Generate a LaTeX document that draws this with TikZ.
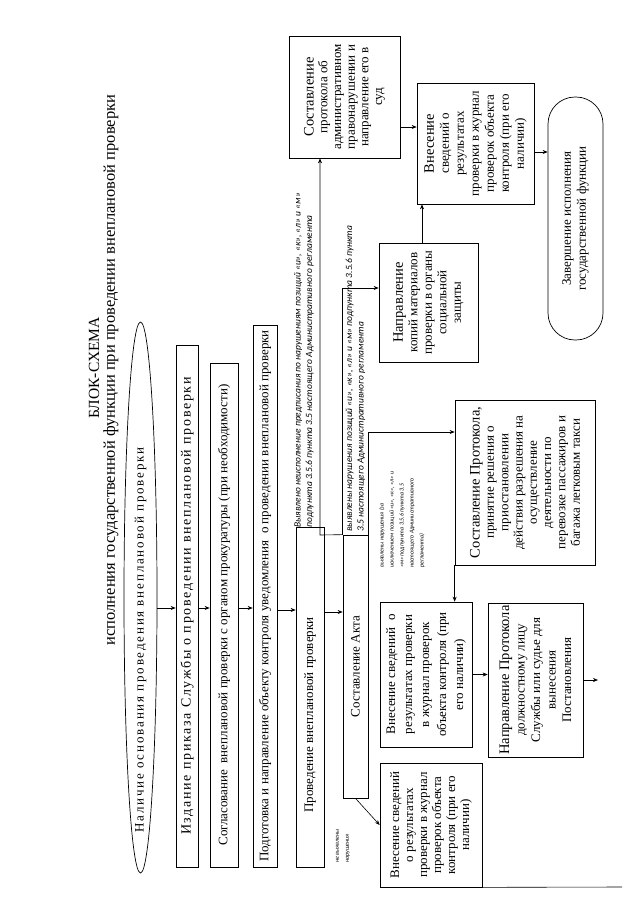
\documentclass[tikz,border=0pt]{standalone}
\usepackage{fontspec}
\setmainfont{Liberation Serif}
\newfontfamily\notefont{Carlito}
\usetikzlibrary{arrows.meta, positioning, shapes.geometric, calc}
\newcommand\firstln[1]{{\fontsize{14.5}{16}\selectfont #1}}
\tikzset{
    blk/.style={draw, rotate=90, align=center, inner sep=2pt, line width=0.7pt, font=\fontsize{13}{15}\selectfont},
    note/.style={rotate=90, align=left, anchor=west, inner sep=0pt, font=\notefont\itshape\fontsize{9.5}{11.5}\selectfont},
    smallnote/.style={note, font=\notefont\itshape\fontsize{6}{10}\selectfont},
    arr/.style={-{Stealth[length=5pt, width=4pt]}, line width=0.6pt},
}
\begin{document}
\begin{tikzpicture}[x=1pt, y=-1pt]
    \useasboundingbox (0,0) rectangle (640,905);
    % title
    \node[rotate=90, font=\fontsize{15.5}{17}\selectfont] (ttl) at (94,368) {БЛОК-СХЕМА};
    \node[rotate=90, font=\fontsize{16.5}{18}\selectfont] (sub) at (111,370) {исполнения государственной функции при проведении внеплановой проверки};
    % main column
    \node[blk, ellipse, minimum width=551pt, minimum height=33pt, inner sep=0pt] (start) at (140.5,597.5) {};
    \node[rotate=90, font=\fontsize{13}{15}\selectfont\addfontfeature{LetterSpace=14}] (starttxt) at (140.5,640) {Наличие основания проведения внеплановой проверки};
    \node[blk, minimum width=522pt, minimum height=22pt, inner sep=0pt] (order) at (187,606) {\fontsize{14}{15}\selectfont\addfontfeature{LetterSpace=12}Издание приказа Службы о проведении внеплановой проверки};
    \node[blk, minimum width=504pt, minimum height=28pt] (agree) at (224,615) {Согласование\ \ внеплановой проверки с органом прокуратуры (при необходимости)};
    \node[blk, minimum width=542pt, minimum height=24pt, inner xsep=0pt] (notice) at (265,596) {Подготовка и направление объекту контроля уведомления\ \ о проведении внеплановой проверки};
    \node[blk, minimum width=340pt, minimum height=28pt] (insp) at (310,697) {Проведение внеплановой проверки\hspace*{36pt}\mbox{}};
    \node[blk, minimum width=263pt, minimum height=25pt] (act) at (355.5,666.5) {Составление Акта};
    % results
    \node[blk, minimum width=124pt, minimum height=102pt, font=\fontsize{13}{14}\selectfont] (nofind) at (431,825) {Внесение сведений\\о результатах\\проверки в журнал\\проверок объекта\\контроля (при его\\наличии)};
    \node[blk, minimum width=145pt, minimum height=92pt, font=\fontsize{13}{17}\selectfont] (jrn) at (426,674.5) {Внесение сведений\ \ о\\результатах проверки\\в журнал проверок\\объекта контроля (при\\его наличии)};
    \node[blk, minimum width=154pt, minimum height=95pt, font=\fontsize{13}{15.5}\selectfont] (np) at (535.5,680) {\firstln{Направление Протокола}\\должностному лицу\\Службы или судье для\\вынесения\\Постановления};
    \node[blk, minimum width=165pt, minimum height=140pt, font=\fontsize{13}{14.3}\selectfont] (sp) at (525,482.5) {\firstln{Составление Протокола,}\\принятие решения о\\приостановлении\\действия разрешения на\\осуществление\\деятельности по\\перевозке пассажиров и\\багажа легковым такси};
    \node[blk, minimum width=119pt, minimum height=99pt, font=\fontsize{13}{14.5}\selectfont] (kop) at (428.5,302.5) {\firstln{Направление}\\копий материалов\\проверки в органы\\социальной\\защиты};
    \node[blk, minimum width=122pt, minimum height=111pt, font=\fontsize{13}{13.7}\selectfont] (prot) at (344.5,97) {\firstln{Составление}\\протокола об\\административном\\правонарушении и\\направление его в\\суд};
    \node[blk, minimum width=121pt, minimum height=117pt, font=\fontsize{13}{15}\selectfont] (vn) at (475.5,143.5) {\firstln{Внесение}\\сведений о\\результатах\\проверки в журнал\\проверок объекта\\контроля (при его\\наличии)};
    \node[blk, rounded corners=27pt, minimum width=243pt, minimum height=55pt] (zav) at (575.5,218.5) {Завершение исполнения\\государственной функции};
    % labels
    \node[note] (n1) at (304,528) {Выявлено неисполнение предписания по нарушениям позиций «и», «к», «л» и «м»\\подпункта 3.5.6 пункта 3.5 настоящего Административного регламента};
    \node[note] (n2) at (355.5,532) {выявлены нарушения позиций «и», «к», «л» и «м» подпункта 3.5.6 пункта\\3.5 настоящего Административного регламента};
    \node[smallnote] (n3) at (402,568) {выявлены нарушения (за\\исключением позиций «и», «к», «л» и\\«м» подпункта 3.5.6 пункта 3.5\\настоящего Административного\\регламента)};
    \node[smallnote] (n4) at (343,863) {не выявлены\\нарушения};
    % connectors
    \coordinate (rowa) at (0,608);
    \coordinate (rowb) at (0,610);
    \coordinate (rowc) at (0,612);
    \draw[arr] (start.south |- rowa) -- (order.north |- rowa);
    \draw[arr] (order.south |- rowa) -- (agree.north |- rowa);
    \draw[arr] (agree.south |- rowa) -- (notice.north |- rowa);
    \draw[arr] (notice.south |- rowb) -- (insp.north |- rowb);
    \draw[arr] (insp.south |- rowc) -- (act.north |- rowc);
    \draw[arr] (act.west) -- (nofind.north);
    \coordinate (busL) at (320,535);
    \draw[arr] (act.north east) -- (busL) -- (busL |- prot.west);
    \draw[arr] (act.north east) |- ([yshift=14.5pt]kop.north);
    \draw[arr] (act.south east) |- ([yshift=50.5pt]sp.north);
    \draw[arr] (sp.north west) -- (sp.north west |- jrn.east);
    \draw[arr] (jrn.south) -- (jrn.south -| np.north);
    \coordinate (npout) at (598,680);
    \draw[arr] (np.south) -- (npout);
    \coordinate (vnin) at ([yshift=16.5pt]vn.north);
    \draw[arr] (prot.south |- vnin) -- (vnin);
    \draw[arr] ([xshift=-6.5pt]kop.east) -- ([xshift=-6.5pt]kop.east |- vn.west);
    \draw[arr] ([yshift=-8.5pt]vn.south) -- ([yshift=-8.5pt]vn.south -| zav.north);
    \coordinate (edge) at (622,887);
    \draw[line width=0.6pt] (nofind.south west) -- (edge);
\end{tikzpicture}
\end{document}
